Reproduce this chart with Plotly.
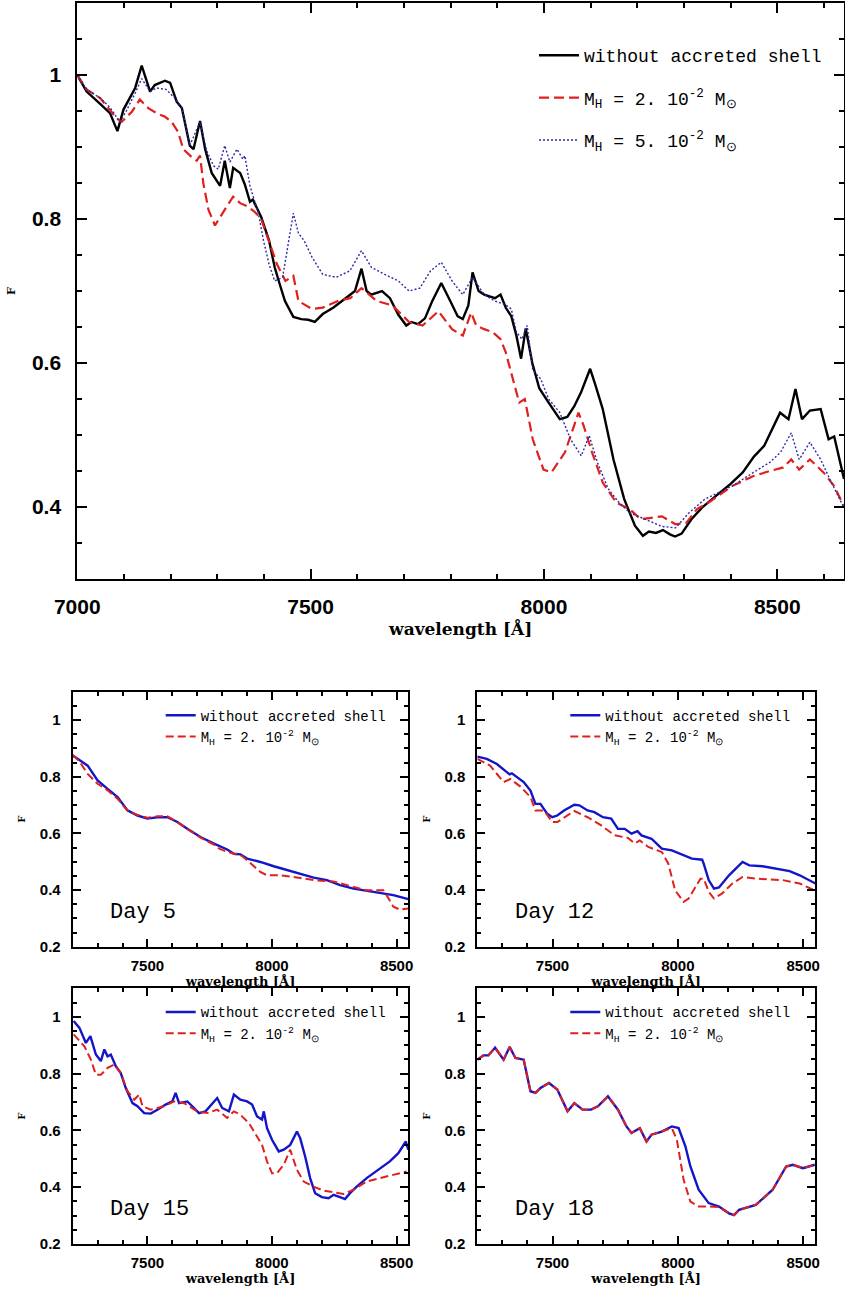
import plotly.graph_objects as go

# ---------------------------------------------------------------- data
# Main panel: normalised flux F versus wavelength (Angstrom)
wl_noshell = [7000, 7020, 7049, 7070, 7086, 7099, 7124, 7138, 7156, 7166, 7188, 7199, 7213, 7224,
              7241, 7249, 7263, 7274, 7288, 7306, 7316, 7327, 7334, 7349, 7359, 7370, 7376, 7394,
              7411, 7423, 7434, 7445, 7463, 7480, 7495, 7509, 7526, 7549, 7575, 7595, 7609, 7620,
              7630, 7653, 7670, 7688, 7705, 7716, 7730, 7745, 7760, 7780, 7800, 7815, 7826, 7838,
              7847, 7860, 7872, 7895, 7907, 7918, 7930, 7941, 7951, 7961, 7975, 7990, 8010, 8034,
              8050, 8065, 8080, 8099, 8110, 8126, 8149, 8172, 8195, 8212, 8225, 8240, 8255, 8270,
              8281, 8295, 8316, 8340, 8368, 8400, 8426, 8450, 8472, 8490, 8506, 8524, 8539, 8553,
              8570, 8593, 8610, 8622, 8643]
f_noshell = [1.000, 0.977, 0.960, 0.947, 0.922, 0.952, 0.982, 1.013, 0.977, 0.986, 0.992, 0.989,
             0.963, 0.954, 0.902, 0.897, 0.936, 0.897, 0.864, 0.846, 0.881, 0.843, 0.871, 0.864,
             0.848, 0.824, 0.827, 0.803, 0.770, 0.733, 0.709, 0.686, 0.664, 0.661, 0.660, 0.657,
             0.668, 0.677, 0.690, 0.700, 0.731, 0.700, 0.695, 0.700, 0.690, 0.667, 0.652, 0.657,
             0.654, 0.662, 0.685, 0.711, 0.685, 0.665, 0.661, 0.680, 0.726, 0.700, 0.695, 0.690,
             0.695, 0.677, 0.665, 0.638, 0.606, 0.648, 0.600, 0.565, 0.545, 0.522, 0.525, 0.540,
             0.560, 0.592, 0.570, 0.536, 0.466, 0.411, 0.374, 0.360, 0.366, 0.364, 0.368, 0.362,
             0.359, 0.363, 0.383, 0.400, 0.415, 0.432, 0.448, 0.470, 0.485, 0.510, 0.531, 0.522,
             0.564, 0.522, 0.534, 0.536, 0.494, 0.498, 0.439]

wl_mh2 = [7000, 7020, 7049, 7084, 7095, 7117, 7134, 7152, 7170, 7188, 7202, 7216, 7227, 7245, 7256,
          7263, 7270, 7281, 7295, 7306, 7320, 7334, 7349, 7366, 7380, 7394, 7411, 7428, 7446, 7463,
          7474, 7503, 7526, 7561, 7585, 7609, 7642, 7675, 7711, 7740, 7774, 7803, 7826, 7844, 7855,
          7872, 7890, 7907, 7918, 7936, 7947, 7959, 7976, 7999, 8016, 8045, 8074, 8085, 8103, 8126,
          8155, 8184, 8207, 8230, 8253, 8282, 8305, 8328, 8357, 8403, 8449, 8484, 8513, 8530, 8547,
          8570, 8599, 8622, 8643]
f_mh2 = [1.000, 0.980, 0.968, 0.940, 0.935, 0.949, 0.966, 0.954, 0.947, 0.942, 0.935, 0.921, 0.897,
         0.886, 0.881, 0.888, 0.850, 0.813, 0.791, 0.803, 0.817, 0.831, 0.822, 0.817, 0.810, 0.800,
         0.770, 0.737, 0.714, 0.721, 0.686, 0.675, 0.677, 0.687, 0.690, 0.704, 0.686, 0.680, 0.657,
         0.652, 0.672, 0.647, 0.638, 0.670, 0.652, 0.647, 0.643, 0.633, 0.615, 0.573, 0.545, 0.550,
         0.494, 0.452, 0.448, 0.476, 0.531, 0.513, 0.476, 0.434, 0.406, 0.397, 0.383, 0.385, 0.387,
         0.376, 0.378, 0.397, 0.408, 0.429, 0.443, 0.450, 0.455, 0.466, 0.452, 0.466, 0.448, 0.429,
         0.401]

wl_mh5 = [7000, 7020, 7049, 7070, 7091, 7105, 7124, 7138, 7156, 7170, 7190, 7209, 7224, 7241, 7263,
          7277, 7292, 7302, 7316, 7327, 7342, 7355, 7359, 7370, 7388, 7399, 7411, 7423, 7440, 7463,
          7474, 7486, 7503, 7526, 7555, 7584, 7609, 7630, 7659, 7688, 7711, 7734, 7757, 7780, 7803,
          7826, 7847, 7872, 7895, 7918, 7930, 7941, 7953, 7964, 7976, 7993, 8010, 8034, 8057, 8080,
          8097, 8115, 8138, 8161, 8184, 8218, 8253, 8282, 8311, 8345, 8403, 8449, 8484, 8507, 8530,
          8547, 8570, 8593, 8616, 8643]
f_mh5 = [1.000, 0.980, 0.968, 0.955, 0.935, 0.950, 0.975, 0.995, 0.977, 0.982, 0.980, 0.968, 0.955,
         0.902, 0.935, 0.895, 0.874, 0.869, 0.902, 0.879, 0.897, 0.883, 0.888, 0.846, 0.808, 0.770,
         0.737, 0.714, 0.719, 0.808, 0.780, 0.770, 0.747, 0.723, 0.719, 0.728, 0.756, 0.733, 0.723,
         0.714, 0.700, 0.704, 0.728, 0.740, 0.714, 0.695, 0.719, 0.695, 0.686, 0.681, 0.675, 0.643,
         0.633, 0.652, 0.590, 0.578, 0.550, 0.531, 0.494, 0.471, 0.499, 0.461, 0.425, 0.406, 0.392,
         0.383, 0.373, 0.371, 0.392, 0.411, 0.429, 0.448, 0.462, 0.476, 0.503, 0.466, 0.490, 0.466,
         0.434, 0.399]

# Day 5
wl_d5_noshell = [7200, 7207, 7260, 7300, 7340, 7380, 7420, 7460, 7500, 7540, 7580, 7620, 7660, 7713,
                 7767, 7820, 7847, 7873, 7900, 7953, 8007, 8060, 8113, 8167, 8220, 8273, 8327, 8380,
                 8433, 8487, 8547]
f_d5_noshell = [0.872, 0.871, 0.839, 0.787, 0.757, 0.728, 0.681, 0.663, 0.652, 0.657, 0.657, 0.640,
                0.616, 0.587, 0.564, 0.543, 0.528, 0.526, 0.511, 0.499, 0.484, 0.470, 0.458, 0.444,
                0.435, 0.417, 0.405, 0.397, 0.390, 0.382, 0.368]
wl_d5_mh2 = [7200, 7230, 7260, 7300, 7340, 7380, 7420, 7460, 7500, 7540, 7580, 7620, 7660, 7713, 7767,
             7790, 7820, 7860, 7880, 7900, 7953, 7980, 8033, 8087, 8167, 8247, 8300, 8380, 8447, 8460,
             8487, 8513, 8547]
f_d5_mh2 = [0.878, 0.850, 0.810, 0.775, 0.752, 0.722, 0.680, 0.665, 0.655, 0.660, 0.660, 0.640, 0.615,
            0.585, 0.560, 0.545, 0.535, 0.525, 0.520, 0.505, 0.464, 0.452, 0.452, 0.446, 0.435, 0.430,
            0.417, 0.399, 0.399, 0.382, 0.341, 0.331, 0.335]

# Day 12
wl_d12_noshell = [7200, 7238, 7278, 7318, 7329, 7338, 7358, 7385, 7412, 7432, 7452, 7479, 7499, 7519,
                  7546, 7587, 7607, 7640, 7667, 7701, 7734, 7761, 7788, 7815, 7839, 7855, 7895, 7936,
                  7976, 8016, 8056, 8097, 8103, 8123, 8144, 8164, 8204, 8258, 8285, 8338, 8392, 8446,
                  8486, 8526, 8549]
f_d12_noshell = [0.871, 0.863, 0.845, 0.816, 0.808, 0.812, 0.798, 0.781, 0.751, 0.704, 0.704, 0.669,
                 0.657, 0.663, 0.681, 0.701, 0.699, 0.681, 0.675, 0.657, 0.652, 0.616, 0.616, 0.599,
                 0.608, 0.593, 0.581, 0.546, 0.540, 0.526, 0.511, 0.507, 0.493, 0.435, 0.405, 0.409,
                 0.452, 0.499, 0.487, 0.484, 0.476, 0.467, 0.452, 0.435, 0.423]
wl_d12_mh2 = [7200, 7251, 7305, 7332, 7372, 7412, 7432, 7466, 7499, 7519, 7587, 7640, 7694, 7748, 7801,
              7828, 7848, 7882, 7936, 7962, 7989, 8023, 8043, 8070, 8090, 8103, 8123, 8144, 8177, 8217,
              8258, 8311, 8419, 8486, 8526, 8549]
f_d12_mh2 = [0.863, 0.839, 0.781, 0.792, 0.765, 0.728, 0.681, 0.681, 0.640, 0.640, 0.679, 0.657, 0.628,
             0.593, 0.584, 0.564, 0.575, 0.552, 0.534, 0.493, 0.399, 0.358, 0.370, 0.411, 0.440, 0.440,
             0.394, 0.370, 0.388, 0.423, 0.446, 0.440, 0.435, 0.423, 0.405, 0.397]

# Day 15
wl_d15_noshell = [7204, 7227, 7253, 7271, 7293, 7313, 7327, 7340, 7353, 7373, 7393, 7413, 7440, 7460,
                  7487, 7513, 7540, 7573, 7600, 7613, 7627, 7660, 7680, 7707, 7733, 7760, 7780, 7800,
                  7827, 7847, 7873, 7900, 7920, 7940, 7960, 7967, 7980, 8000, 8027, 8047, 8073, 8100,
                  8113, 8133, 8153, 8173, 8200, 8227, 8247, 8273, 8293, 8313, 8340, 8380, 8433, 8473,
                  8507, 8527, 8537, 8547]
f_d15_noshell = [0.985, 0.961, 0.908, 0.932, 0.867, 0.844, 0.885, 0.861, 0.867, 0.826, 0.802, 0.749,
                 0.696, 0.685, 0.661, 0.659, 0.673, 0.691, 0.702, 0.732, 0.696, 0.702, 0.685, 0.661,
                 0.667, 0.696, 0.714, 0.679, 0.667, 0.726, 0.708, 0.702, 0.691, 0.649, 0.638, 0.667,
                 0.608, 0.567, 0.526, 0.532, 0.549, 0.596, 0.573, 0.508, 0.432, 0.379, 0.365, 0.361,
                 0.373, 0.365, 0.358, 0.379, 0.402, 0.432, 0.467, 0.491, 0.520, 0.549, 0.561, 0.532]
wl_d15_mh2 = [7204, 7247, 7273, 7293, 7313, 7340, 7367, 7393, 7420, 7447, 7467, 7480, 7513, 7567, 7607,
              7647, 7700, 7740, 7780, 7820, 7847, 7873, 7907, 7940, 7960, 7980, 8000, 8020, 8047, 8073,
              8100, 8127, 8167, 8207, 8247, 8287, 8327, 8380, 8433, 8487, 8540]
f_d15_mh2 = [0.938, 0.896, 0.849, 0.796, 0.796, 0.820, 0.832, 0.802, 0.738, 0.708, 0.726, 0.685, 0.673,
             0.685, 0.702, 0.696, 0.667, 0.661, 0.673, 0.644, 0.667, 0.655, 0.626, 0.579, 0.549, 0.491,
             0.449, 0.449, 0.479, 0.532, 0.461, 0.420, 0.402, 0.388, 0.381, 0.376, 0.391, 0.420, 0.432,
             0.444, 0.455]

# Day 18
wl_d18_noshell = [7200, 7224, 7244, 7271, 7305, 7329, 7352, 7385, 7412, 7432, 7452, 7486, 7519, 7560,
                  7587, 7620, 7654, 7681, 7721, 7761, 7795, 7815, 7848, 7875, 7895, 7936, 7976, 8003,
                  8030, 8050, 8083, 8123, 8164, 8204, 8224, 8244, 8311, 8378, 8432, 8459, 8499, 8546]
f_d18_noshell = [0.849, 0.864, 0.864, 0.891, 0.849, 0.894, 0.855, 0.849, 0.738, 0.732, 0.749, 0.767,
                 0.744, 0.667, 0.696, 0.673, 0.673, 0.685, 0.720, 0.673, 0.614, 0.591, 0.608, 0.561,
                 0.585, 0.596, 0.614, 0.608, 0.544, 0.473, 0.391, 0.344, 0.332, 0.308, 0.302, 0.320,
                 0.338, 0.391, 0.473, 0.479, 0.467, 0.479]
wl_d18_mh2 = [7200, 7224, 7244, 7271, 7305, 7329, 7352, 7385, 7412, 7432, 7452, 7486, 7519, 7560,
              7587, 7620, 7654, 7681, 7721, 7761, 7795, 7815, 7848, 7875, 7895, 7936, 7976, 7996,
              8023, 8050, 8083, 8123, 8164, 8204, 8224, 8244, 8311, 8378, 8432, 8459, 8499, 8546]
f_d18_mh2 = [0.849, 0.864, 0.864, 0.891, 0.849, 0.894, 0.855, 0.849, 0.738, 0.732, 0.749, 0.767,
             0.744, 0.667, 0.696, 0.673, 0.673, 0.685, 0.720, 0.673, 0.614, 0.591, 0.608, 0.561,
             0.585, 0.596, 0.608, 0.567, 0.426, 0.349, 0.332, 0.332, 0.330, 0.308, 0.302, 0.320,
             0.338, 0.391, 0.473, 0.479, 0.467, 0.479]

day_labels = ["Day 5", "Day 12", "Day 15", "Day 18"]

NAME_NOSHELL = "without accreted shell"
NAME_MH2 = "M<sub>H</sub> = 2. 10<sup>-2</sup> M<sub>⊙</sub>"
NAME_MH5 = "M<sub>H</sub> = 5. 10<sup>-2</sup> M<sub>⊙</sub>"

# ---------------------------------------------------------------- style
W, H = 845, 1289
BLACK = "#000000"
RED = "#e0201e"
BLUE = "#1414c8"
NAVY = "#2a2aa8"
TICK_FAMILY = "Liberation Sans"
LABEL_FAMILY = "DejaVu Serif"
MONO = "Liberation Mono"


def xdom(left, right):
    return [left / W, right / W]


def ydom(top, bottom):
    return [1 - bottom / H, 1 - top / H]


def axis(dom, rng, dtick, tick0, minor_dtick, font_size, ticklen, standoff, **extra):
    d = dict(domain=dom, range=rng, dtick=dtick, tick0=tick0, automargin=False,
             showline=True, linecolor=BLACK, linewidth=2, mirror="allticks",
             ticks="inside", ticklen=ticklen, tickwidth=1.8, tickcolor=BLACK,
             minor=dict(ticks="inside", dtick=minor_dtick, tick0=tick0,
                        ticklen=ticklen * 0.5, tickwidth=1.5, tickcolor=BLACK),
             showgrid=False, zeroline=False,
             tickfont=dict(family=TICK_FAMILY, size=font_size, color=BLACK, weight="bold"),
             ticklabelstandoff=standoff)
    d.update(extra)
    return d


fig = go.Figure()

# main panel
fig.add_trace(go.Scatter(x=wl_noshell, y=f_noshell, mode="lines", name=NAME_NOSHELL,
                         line=dict(color=BLACK, width=2.4), xaxis="x", yaxis="y",
                         legend="legend", legendgroup="a"))
fig.add_trace(go.Scatter(x=wl_mh2, y=f_mh2, mode="lines", name=NAME_MH2,
                         line=dict(color=RED, width=2.2, dash="10px,5px"), xaxis="x", yaxis="y",
                         legend="legend", legendgroup="b"))
fig.add_trace(go.Scatter(x=wl_mh5, y=f_mh5, mode="lines", name=NAME_MH5,
                         line=dict(color=NAVY, width=1.4, dash="2px,2px"), xaxis="x", yaxis="y",
                         legend="legend", legendgroup="c"))

# four epochs
small = [
    (wl_d5_noshell, f_d5_noshell, wl_d5_mh2, f_d5_mh2),
    (wl_d12_noshell, f_d12_noshell, wl_d12_mh2, f_d12_mh2),
    (wl_d15_noshell, f_d15_noshell, wl_d15_mh2, f_d15_mh2),
    (wl_d18_noshell, f_d18_noshell, wl_d18_mh2, f_d18_mh2),
]
for i, (wa, fa, wb, fb) in enumerate(small):
    k = i + 2
    fig.add_trace(go.Scatter(x=wa, y=fa, mode="lines", name=NAME_NOSHELL,
                             line=dict(color=BLUE, width=2.4), xaxis=f"x{k}", yaxis=f"y{k}",
                             legend=f"legend{k}"))
    fig.add_trace(go.Scatter(x=wb, y=fb, mode="lines", name=NAME_MH2,
                             line=dict(color=RED, width=2.0, dash="8px,4px"),
                             xaxis=f"x{k}", yaxis=f"y{k}", legend=f"legend{k}"))

title_big = dict(text="wavelength [Å]", font=dict(family=LABEL_FAMILY, size=17, weight="bold", color=BLACK))
title_small = dict(text="wavelength [Å]", font=dict(family=LABEL_FAMILY, size=13, weight="bold", color=BLACK))
ftitle_big = dict(text="F", font=dict(family=LABEL_FAMILY, size=11, weight="bold", color=BLACK))
ftitle_small = dict(text="F", font=dict(family=LABEL_FAMILY, size=10, weight="bold", color=BLACK))

layout = dict(
    template="none",
    width=W, height=H, margin=dict(l=0, r=0, t=0, b=0, autoexpand=False),
    paper_bgcolor="white", plot_bgcolor="white", showlegend=True,
    xaxis=axis(xdom(77.3, 844), [7000, 8643], 500, 7000, 100, 21, 10, 8,
               title=dict(title_big, standoff=6), anchor="y"),
    yaxis=axis(ydom(3, 579), [0.3, 1.1], 0.2, 0, 0.05, 21, 10, 10,
               title=dict(ftitle_big, standoff=14), anchor="x"),
)

panels = [
    (72.7, 408.3, 691.7, 946.7),
    (477.3, 815.0, 691.7, 946.7),
    (72.7, 408.3, 988.4, 1244.0),
    (477.3, 815.0, 988.4, 1244.0),
]
for i, (l, r, t, b) in enumerate(panels):
    k = i + 2
    layout[f"xaxis{k}"] = axis(xdom(l, r), [7200, 8547], 500, 7000, 100, 15, 8, 4,
                               title=dict(title_small, standoff=2), anchor=f"y{k}")
    layout[f"yaxis{k}"] = axis(ydom(t, b), [0.2, 1.1], 0.2, 0, 0.05, 15, 8, 7,
                               title=dict(ftitle_small, standoff=12), anchor=f"x{k}")
    layout[f"legend{k}"] = dict(
        x=(l + 88) / W, y=1 - (t + 8) / H, xanchor="left", yanchor="top",
        bgcolor="rgba(0,0,0,0)", borderwidth=0, itemwidth=30,
        font=dict(family=MONO, size=14, color=BLACK), tracegroupgap=0)

layout["legend"] = dict(
    x=534 / W, y=1 - 37 / H, xanchor="left", yanchor="top",
    bgcolor="rgba(0,0,0,0)", borderwidth=0, itemwidth=40,
    font=dict(family=MONO, size=18, color=BLACK), tracegroupgap=16)

fig.update_layout(**layout)

# epoch labels inside each small panel
for i, lab in enumerate(day_labels):
    k = i + 2
    fig.add_annotation(text=lab, xref=f"x{k} domain", yref=f"y{k} domain",
                       x=0.105, y=0.135, xanchor="left", yanchor="middle", showarrow=False,
                       font=dict(family=MONO, size=22, color=BLACK))

fig.write_html("out.html")
